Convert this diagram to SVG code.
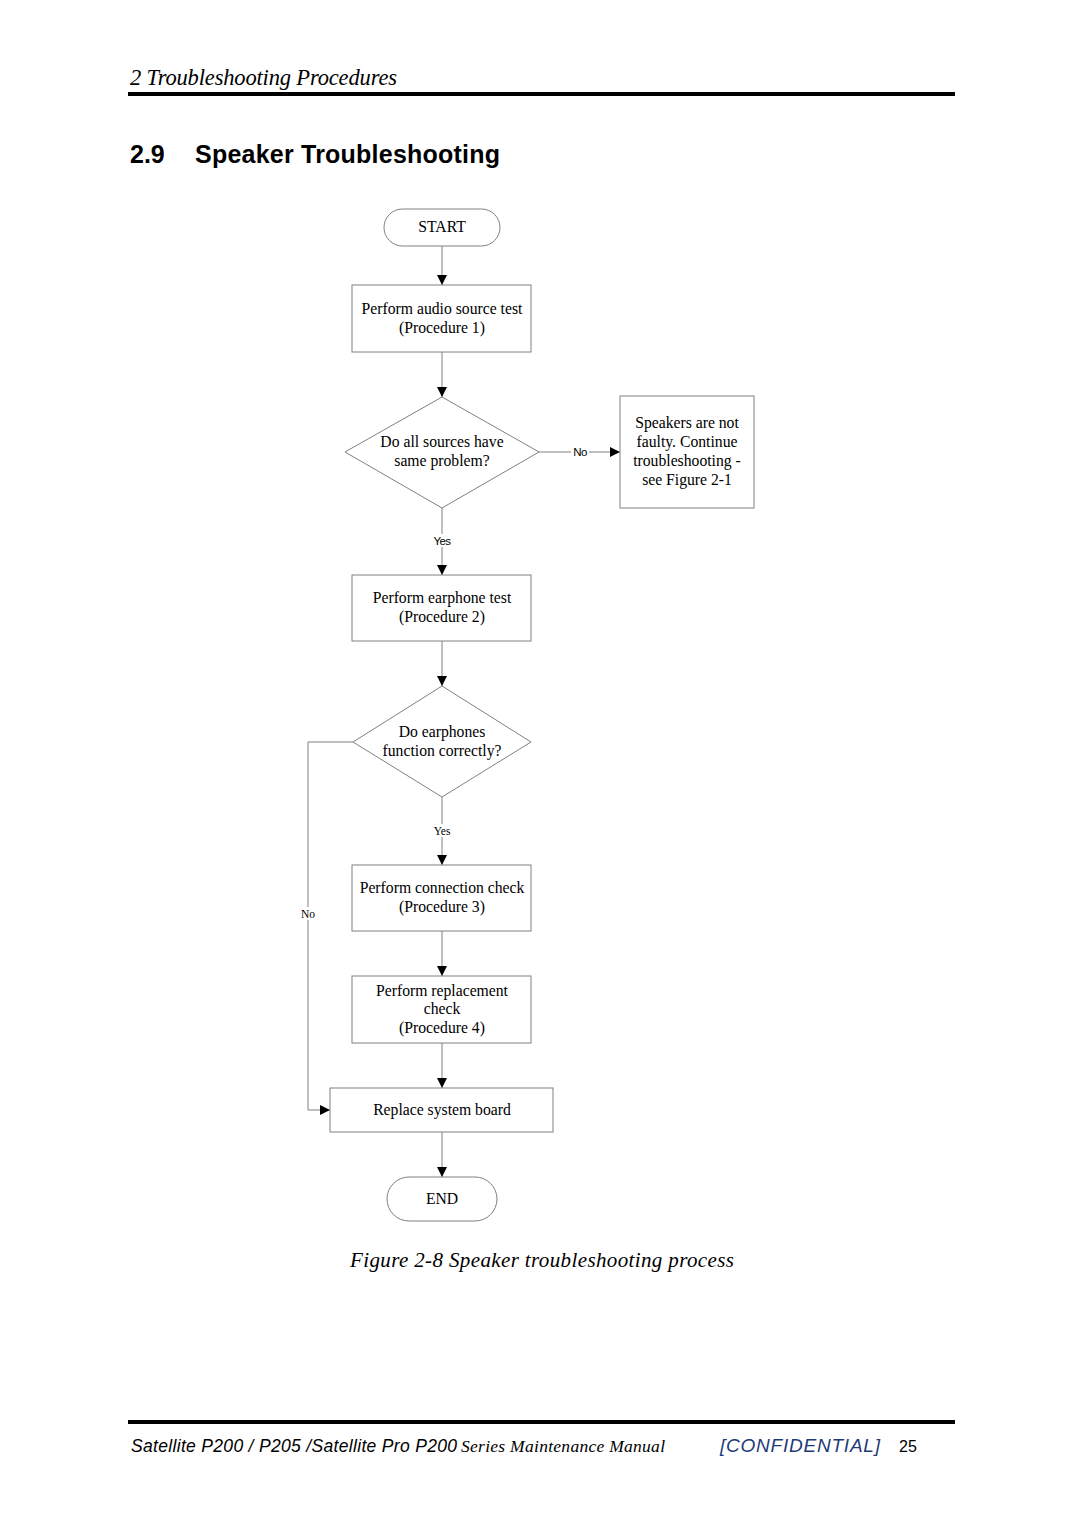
<svg xmlns="http://www.w3.org/2000/svg" width="1080" height="1527" viewBox="0 0 1080 1527">
<defs>
<style>
.node{fill:#fff;stroke:#808080;stroke-width:1}
.t{font-family:"Liberation Serif","Times New Roman",serif;font-size:15.7px;fill:#000;text-anchor:middle}
.lbl{font-family:"Liberation Sans",Arial,sans-serif;font-size:11.5px;fill:#000;text-anchor:middle;letter-spacing:-0.6px}
.lbls{font-family:"Liberation Serif","Times New Roman",serif;font-size:11.5px;fill:#000;text-anchor:middle}
.c{fill:none;stroke:#808080;stroke-width:1}
</style>
<marker id="ah" viewBox="0 0 10 10" refX="10" refY="5" markerWidth="10" markerHeight="10" markerUnits="userSpaceOnUse" orient="auto">
<path d="M0,0 L10,5 L0,10 z" fill="#000"/>
</marker>
</defs>
<rect width="1080" height="1527" fill="#fff"/>

<text x="130" y="85" font-family="Liberation Serif,serif" font-style="italic" font-size="22.5" textLength="267">2 Troubleshooting Procedures</text>
<rect x="128" y="92" width="827" height="4" fill="#000"/>
<text x="130" y="163" font-family="Liberation Sans,Arial,sans-serif" font-weight="bold" font-size="25">2.9</text>
<text x="195" y="163" font-family="Liberation Sans,Arial,sans-serif" font-weight="bold" font-size="25" textLength="305">Speaker Troubleshooting</text>

<g id="connectors">
<line class="c" x1="442" y1="246" x2="442" y2="285" marker-end="url(#ah)"/>
<line class="c" x1="442" y1="352" x2="442" y2="397" marker-end="url(#ah)"/>
<line class="c" x1="539" y1="452" x2="620" y2="452" marker-end="url(#ah)"/>
<line class="c" x1="442" y1="508" x2="442" y2="575" marker-end="url(#ah)"/>
<line class="c" x1="442" y1="641" x2="442" y2="686" marker-end="url(#ah)"/>
<line class="c" x1="442" y1="797" x2="442" y2="865" marker-end="url(#ah)"/>
<line class="c" x1="442" y1="931" x2="442" y2="976" marker-end="url(#ah)"/>
<line class="c" x1="442" y1="1043" x2="442" y2="1088" marker-end="url(#ah)"/>
<polyline class="c" points="353,742 308,742 308,1110 330,1110" marker-end="url(#ah)"/>
<line class="c" x1="442" y1="1132" x2="442" y2="1177" marker-end="url(#ah)"/>
<rect x="571" y="445" width="18" height="13" fill="#fff"/>
<text class="lbl" x="580" y="456">No</text>
<rect x="430" y="534" width="24" height="13" fill="#fff"/>
<text class="lbl" x="442" y="545">Yes</text>
<rect x="430" y="824" width="24" height="13" fill="#fff"/>
<text class="lbls" x="442" y="835">Yes</text>
<rect x="299" y="907" width="18" height="13" fill="#fff"/>
<text class="lbls" x="308" y="918">No</text>
</g>

<g id="start">
<rect class="node" x="384" y="209" width="116" height="37" rx="18.5"/>
<text class="t" x="442" y="232">START</text>
</g>
<g id="proc1">
<rect class="node" x="352" y="285" width="179" height="67"/>
<text class="t" x="442" y="314">Perform audio source test</text>
<text class="t" x="442" y="333">(Procedure 1)</text>
</g>
<g id="dec1">
<polygon class="node" points="442,397 539,452 442,508 345,452"/>
<text class="t" x="442" y="447">Do all sources have</text>
<text class="t" x="442" y="466">same problem?</text>
</g>
<g id="notfaulty">
<rect class="node" x="620" y="396" width="134" height="112"/>
<text class="t" x="687" y="428">Speakers are not</text>
<text class="t" x="687" y="447">faulty. Continue</text>
<text class="t" x="687" y="466">troubleshooting -</text>
<text class="t" x="687" y="485">see Figure 2-1</text>
</g>
<g id="proc2">
<rect class="node" x="352" y="575" width="179" height="66"/>
<text class="t" x="442" y="603">Perform earphone test</text>
<text class="t" x="442" y="622">(Procedure 2)</text>
</g>
<g id="dec2">
<polygon class="node" points="442,686 531,742 442,797 353,742"/>
<text class="t" x="442" y="737">Do earphones</text>
<text class="t" x="442" y="756">function correctly?</text>
</g>
<g id="proc3">
<rect class="node" x="352" y="865" width="179" height="66"/>
<text class="t" x="442" y="893">Perform connection check</text>
<text class="t" x="442" y="912">(Procedure 3)</text>
</g>
<g id="proc4">
<rect class="node" x="352" y="976" width="179" height="67"/>
<text class="t" x="442" y="996">Perform replacement</text>
<text class="t" x="442" y="1014">check</text>
<text class="t" x="442" y="1033">(Procedure 4)</text>
</g>
<g id="replace">
<rect class="node" x="330" y="1088" width="223" height="44"/>
<text class="t" x="442" y="1115">Replace system board</text>
</g>
<g id="end">
<rect class="node" x="387" y="1177" width="110" height="44" rx="22"/>
<text class="t" x="442" y="1204">END</text>
</g>

<text x="542" y="1267" text-anchor="middle" font-family="Liberation Serif,serif" font-style="italic" font-size="21" textLength="384">Figure 2-8 Speaker troubleshooting process</text>

<rect x="128" y="1420" width="827" height="4" fill="#000"/>
<text x="131" y="1452" font-family="Liberation Sans,Arial,sans-serif" font-style="italic" font-size="17.5" textLength="326">Satellite P200 / P205 /Satellite Pro P200</text>
<text x="461" y="1452" font-family="Liberation Serif,serif" font-style="italic" font-size="17.5" textLength="204">Series Maintenance Manual</text>
<text x="720" y="1452" font-family="Liberation Sans,Arial,sans-serif" font-style="italic" font-size="19" fill="#1f3a7a" textLength="160">[CONFIDENTIAL]</text>
<text x="899" y="1452" font-family="Liberation Sans,Arial,sans-serif" font-size="16">25</text>
</svg>
